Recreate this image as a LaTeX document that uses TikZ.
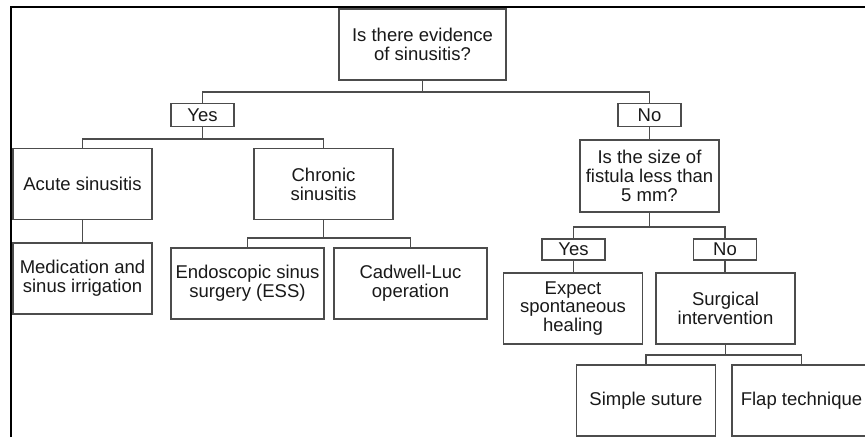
\documentclass[tikz,border=0pt]{standalone}
\usepackage{fontspec}
\setmainfont{Liberation Sans}
\usepackage{tikz}
\usetikzlibrary{positioning}

\tikzset{
  box/.style={draw=black!70, line width=1.5pt, fill=white, align=center, inner sep=0pt,
              font=\fontsize{18.5}{18.8}\selectfont, text=black!90},
  bigbox/.style={box, minimum width=139pt, minimum height=71pt},
  widebox/.style={box, minimum width=153pt, minimum height=71pt},
  answer/.style={box, minimum width=63pt, minimum height=23pt},
  link/.style={draw=black!70, line width=1.5pt}
}

\begin{document}
\begin{tikzpicture}[x=1pt,y=-1pt]
\useasboundingbox (0,0) rectangle (865,437);
\draw[line width=2.8pt] (11,437) -- (11,7) -- (865,7);  % frame, left side and top only

% question at the top
\node[box, minimum width=167pt, minimum height=71pt] (evid) at (422.5,44.5) {Is there evidence\\of sinusitis?};
\node[answer] (yes) at (202.5,115) {Yes};
\node[answer] (no) at (649.5,115) {No};

% left branch
\node[bigbox] (acute) at (82.5,184) {Acute sinusitis};
\node[bigbox] (chronic) at (323.5,184) {Chronic\\sinusitis};
\node[bigbox] (medic) at (82.5,278.5) {Medication and\\sinus irrigation};
\node[widebox] (ess) at (247.5,283.5) {Endoscopic sinus\\surgery (ESS)};
\node[widebox] (cadwell) at (410.5,283.5) {Cadwell-Luc\\operation};

% right branch
\node[bigbox, minimum height=72pt] (fistula) at (649.5,176) {Is the size of\\fistula less than\\5 mm?};
\node[answer, minimum height=21pt] (yes2) at (573.5,249.5) {Yes};
\node[answer, minimum height=21pt] (no2) at (725,249.5) {No};
\node[bigbox] (expect) at (573,308.5) {Expect\\spontaneous\\healing};
\node[bigbox] (surg) at (725.5,308.5) {Surgical\\intervention};
\node[bigbox] (simple) at (646,400.5) {Simple suture};
\node[bigbox] (flap) at (801.5,400.5) {Flap technique};

% junctions
\coordinate (j1) at (422.5,92);
\coordinate (j2) at (202.5,139);
\coordinate (j3) at (323.5,238);
\coordinate (j4) at (649.5,227);
\coordinate (j5) at (725.5,355);

\draw[link] (evid) -- (j1);
\draw[link] (j1) -| (yes);
\draw[link] (j1) -| (no);
\draw[link] (yes) -- (j2);
\draw[link] (j2) -| (acute);
\draw[link] (j2) -| (chronic);
\draw[link] (acute) -- (medic);
\draw[link] (chronic) -- (j3);
\draw[link] (j3) -| (ess);
\draw[link] (j3) -| (cadwell);
\draw[link] (no) -- (fistula);
\draw[link] (fistula) -- (j4);
\draw[link] (j4) -| (yes2);
\draw[link] (j4) -| (no2);
\draw[link] (yes2) -- (expect.north -| yes2);
\draw[link] (no2) -- (surg.north -| no2);
\draw[link] (surg) -- (j5);
\draw[link] (j5) -| (simple);
\draw[link] (j5) -| (flap);
\end{tikzpicture}
\end{document}
